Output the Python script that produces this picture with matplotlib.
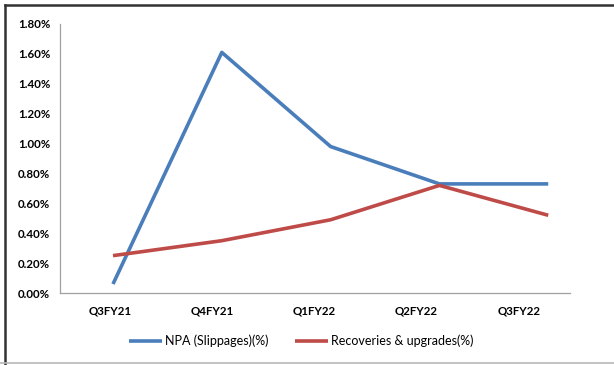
import numpy as np
import matplotlib.pyplot as plt
from matplotlib.lines import Line2D

plt.rcParams['font.family'] = ['Lato', 'DejaVu Sans']

quarters = ['Q3FY21', 'Q4FY21', 'Q1FY22', 'Q2FY22', 'Q3FY22']
npa_slippages = [0.06, 1.61, 0.98, 0.73, 0.73]
recoveries = [0.25, 0.35, 0.49, 0.72, 0.52]

blue = '#4A7EBB'
red = '#BE4B48'

fig = plt.figure(figsize=(6.14, 3.65), dpi=100)
ax = fig.add_axes([60 / 614, 72 / 365, 510 / 614, 269 / 365])

x = np.arange(len(quarters))
ax.plot(x, npa_slippages, color=blue, lw=2.6, solid_capstyle='butt',
        label='NPA (Slippages)(%)')
ax.plot(x, recoveries, color=red, lw=2.6, solid_capstyle='butt',
        label='Recoveries & upgrades(%)')

ax.set_xlim(-0.487, 4.2)
ax.set_ylim(0, 1.8)

# category labels sit a little tighter than the plotted points
tick_pos = np.arange(len(quarters)) * 0.94 - 0.03
ax.set_xticks(tick_pos, quarters)
yt = np.arange(0, 1.81, 0.2)
ax.set_yticks(yt, [f'{v:.2f}%' for v in yt])
ax.tick_params(length=0, labelsize=8.3, pad=7)
ax.tick_params(axis='x', pad=9)
for lab in ax.get_xticklabels() + ax.get_yticklabels():
    lab.set_fontweight('bold')

for side in ['top', 'right']:
    ax.spines[side].set_visible(False)
for side in ['left', 'bottom']:
    ax.spines[side].set_color('#a0a0a0')
    ax.spines[side].set_linewidth(0.9)

fig.legend(loc='center', bbox_to_anchor=(301 / 614, 1 - 341 / 365), ncol=2,
           frameon=False, fontsize=9, handlelength=2.7, handletextpad=0.2,
           columnspacing=2.1)

# outer frame
fig.add_artist(Line2D([5 / 614, 5 / 614], [0, 1 - 5 / 365], color='#333333', lw=1.8))
fig.add_artist(Line2D([5 / 614, 1], [1 - 5 / 365, 1 - 5 / 365], color='#333333', lw=1.8))
fig.add_artist(Line2D([0, 1], [2.5 / 365, 2.5 / 365], color='#b8b8b8', lw=1.2))

fig.savefig('out.png', dpi=100, facecolor='white')
